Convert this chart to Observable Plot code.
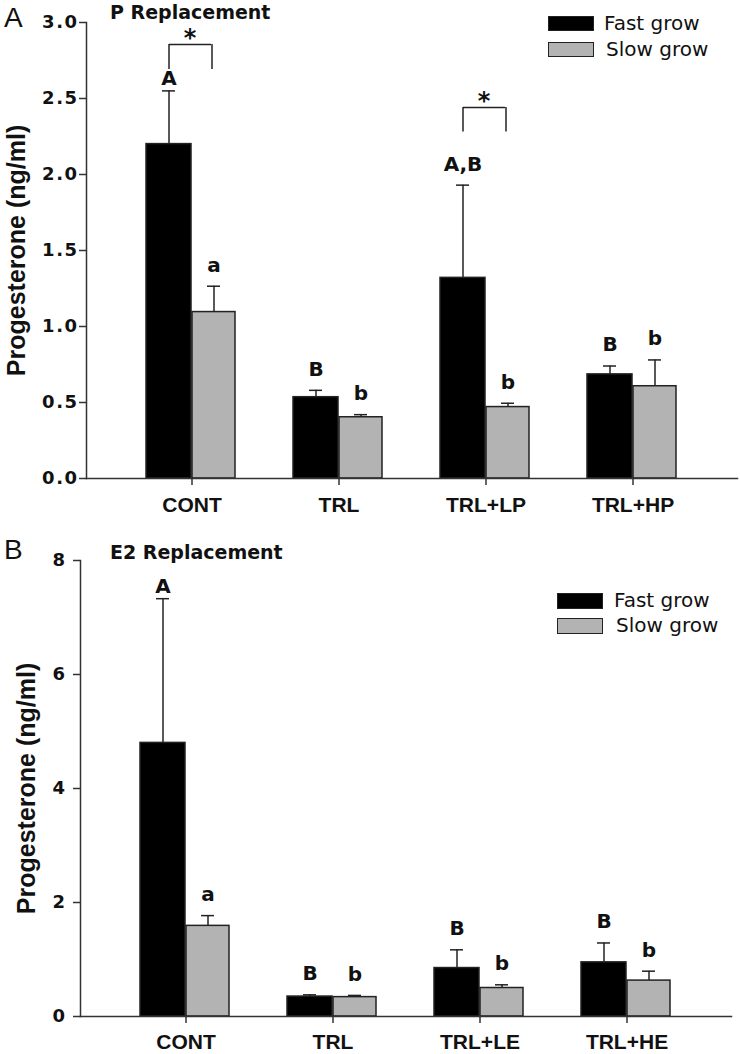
<!DOCTYPE html>
<html><head><meta charset="utf-8">
<script src="https://cdn.jsdelivr.net/npm/d3@7"></script>
<script src="https://cdn.jsdelivr.net/npm/@observablehq/plot@0.6"></script>
<style>
body{margin:0;background:#fff;}
#root{position:relative;width:740px;height:1054px;font-family:"Liberation Sans",Arial,sans-serif;color:#111;}
#root svg{display:block;}
.sw{position:absolute;box-sizing:border-box;border:1.5px solid #222;}
.lt{position:absolute;font-family:"DejaVu Sans",sans-serif;font-size:20px;line-height:24px;height:24px;white-space:nowrap;}
.ttl{position:absolute;font-family:"DejaVu Sans",sans-serif;font-weight:bold;font-size:19px;line-height:24px;height:24px;white-space:nowrap;}
.pl{position:absolute;font-family:"Liberation Sans",Arial,sans-serif;font-size:28px;line-height:30px;height:30px;}
</style></head><body><div id="root"></div>
<script>
// ---------- data ----------
const seriesNames = ["Fast grow", "Slow grow"];
const seriesColors = ["#000000", "#b3b3b3"];
const yLabel = "Progesterone (ng/ml)";

// Panel A: P Replacement
const catsA = ["CONT", "TRL", "TRL+LP", "TRL+HP"];
const fastA = [2.20, 0.535, 1.32, 0.685];
const fastErrA = [2.55, 0.58, 1.93, 0.74];
const slowA = [1.095, 0.403, 0.47, 0.607];
const slowErrA = [1.265, 0.42, 0.495, 0.78];
const fastLetterA = ["A", "B", "A,B", "B"];
const slowLetterA = ["a", "b", "b", "b"];
const yTicksA = [0, 0.5, 1.0, 1.5, 2.0, 2.5, 3.0];
const sigCatsA = ["CONT", "TRL+LP"];
const sigTopA = [2.855, 2.44];
const sigLegA = [2.69, 2.28];

// Panel B: E2 Replacement
const catsB = ["CONT", "TRL", "TRL+LE", "TRL+HE"];
const fastB = [4.80, 0.35, 0.85, 0.95];
const fastErrB = [7.33, 0.38, 1.17, 1.29];
const slowB = [1.59, 0.34, 0.50, 0.63];
const slowErrB = [1.77, 0.37, 0.556, 0.795];
const fastLetterB = ["A", "B", "B", "B"];
const slowLetterB = ["a", "b", "b", "b"];
const yTicksB = [0, 2, 4, 6, 8];
const sigCatsB = [];
const sigTopB = [];
const sigLegB = [];

// ---------- drawing ----------
const ink = "#222";
function panel(o) {
  const fastRows = o.cats.map((c, i) => ({cat: c, value: o.fast[i], err: o.fastErr[i], letter: o.fastLetter[i]}));
  const slowRows = o.cats.map((c, i) => ({cat: c, value: o.slow[i], err: o.slowErr[i], letter: o.slowLetter[i]}));
  const sigRows = o.sigCats.map((c, i) => ({cat: c, top: o.sigTop[i], leg: o.sigLeg[i]}));
  const letterStyle = {fontSize: 20, fontWeight: "bold", fontFamily: "DejaVu Sans", fill: "#111", text: "letter", x: "cat", y: "err"};
  const svg = Plot.plot({
    width: 740,
    height: o.height,
    marginTop: o.marginTop,
    marginBottom: o.marginBottom,
    marginLeft: o.marginLeft,
    marginRight: o.marginRight,
    style: {fontFamily: "Liberation Sans, Arial, sans-serif", background: "white", overflow: "visible", color: "#111"},
    x: {type: "band", domain: o.cats, paddingInner: 0, paddingOuter: 0.2},
    y: {domain: o.yDomain},
    marks: [
      Plot.barY(fastRows, {x: "cat", y: "value", fill: seriesColors[0], stroke: ink, strokeWidth: 1.5, insetLeft: 28, insetRight: 74}),
      Plot.barY(slowRows, {x: "cat", y: "value", fill: seriesColors[1], stroke: ink, strokeWidth: 1.5, insetLeft: 74, insetRight: 30}),
      Plot.ruleX(fastRows, {x: "cat", y1: "value", y2: "err", dx: -23, stroke: ink, strokeWidth: 1.5}),
      Plot.ruleX(slowRows, {x: "cat", y1: "value", y2: "err", dx: 22, stroke: ink, strokeWidth: 1.5}),
      Plot.ruleY(fastRows, {x1: "cat", x2: "cat", y: "err", insetLeft: 44, insetRight: 90, stroke: ink, strokeWidth: 1.5}),
      Plot.ruleY(slowRows, {x1: "cat", x2: "cat", y: "err", insetLeft: 89, insetRight: 45, stroke: ink, strokeWidth: 1.5}),
      Plot.text(fastRows, {...letterStyle, dx: -23, dy: -21, filter: d => d.letter !== "A"}),
      Plot.text(fastRows, {...letterStyle, dx: -23, dy: -12, filter: d => d.letter === "A"}),
      Plot.text(slowRows, {...letterStyle, dx: 22, dy: -21}),
      Plot.ruleY(sigRows, {x1: "cat", x2: "cat", y: "top", insetLeft: 51, insetRight: 54, stroke: ink, strokeWidth: 1.5}),
      Plot.ruleX(sigRows, {x: "cat", y1: "leg", y2: "top", dx: -23, stroke: ink, strokeWidth: 1.5}),
      Plot.ruleX(sigRows, {x: "cat", y1: "leg", y2: "top", dx: 20, stroke: ink, strokeWidth: 1.5}),
      Plot.text(sigRows, {x: "cat", y: "top", text: () => "*", dx: -2, dy: -6, fontSize: 24, fontWeight: "bold", fontFamily: "DejaVu Sans", fill: "#111"}),
      Plot.axisY({ticks: o.yTicks, tickFormat: o.tickFmt, tickSize: 7, tickPadding: o.tickPadding, fontSize: 18, fontWeight: "bold", fontFamily: "DejaVu Sans", color: "#111", stroke: "#333", strokeWidth: 1.5, label: null}),
      Plot.axisX({tickSize: 7, tickPadding: o.xPad, fontSize: 21, fontWeight: "bold", color: "#111", stroke: "#333", strokeWidth: 1.5, label: null}),
      Plot.frame({anchor: "left", stroke: "#333", strokeWidth: 1.5}),
      Plot.frame({anchor: "bottom", stroke: "#333", strokeWidth: 1.5}),
      Plot.text([yLabel], {frameAnchor: "left", textAnchor: "middle", lineAnchor: "middle", rotate: -90, dx: o.yLabelDx, text: d => d, fontSize: 25, fontWeight: "bold", fill: "#111"})
    ]
  });
  svg.querySelectorAll('g[aria-label="y-axis tick label"] text').forEach(t => t.setAttribute("letter-spacing", "1.5"));
  return svg;
}

const root = document.getElementById("root");
const wrapA = document.createElement("div");
wrapA.style.cssText = "position:absolute;left:0;top:0;";
wrapA.appendChild(panel({cats: catsA, fast: fastA, fastErr: fastErrA, slow: slowA, slowErr: slowErrA,
  fastLetter: fastLetterA, slowLetter: slowLetterA, yTicks: yTicksA, yDomain: [0, 3], tickFmt: d3.format(".1f"),
  sigCats: sigCatsA, sigTop: sigTopA, sigLeg: sigLegA,
  height: 525, marginTop: 22, marginBottom: 47, marginLeft: 86, marginRight: 3, tickPadding: 1, xPad: 12, yLabelDx: -70}));
root.appendChild(wrapA);
const wrapB = document.createElement("div");
wrapB.style.cssText = "position:absolute;left:0;top:525px;";
wrapB.appendChild(panel({cats: catsB, fast: fastB, fastErr: fastErrB, slow: slowB, slowErr: slowErrB,
  fastLetter: fastLetterB, slowLetter: slowLetterB, yTicks: yTicksB, yDomain: [0, 8], tickFmt: d3.format("d"),
  sigCats: sigCatsB, sigTop: sigTopB, sigLeg: sigLegB,
  height: 529, marginTop: 35, marginBottom: 38, marginLeft: 80, marginRight: 9, tickPadding: 7, xPad: 11, yLabelDx: -54}));
root.appendChild(wrapB);

function addDiv(cls, text, css) {
  const d = document.createElement("div");
  d.className = cls;
  if (text) d.textContent = text;
  d.style.cssText += css;
  root.appendChild(d);
}
// panel letters and titles
addDiv("pl", "A", "left:4px;top:3px;");
addDiv("ttl", "P Replacement", "left:110px;top:0px;");
addDiv("pl", "B", "left:4px;top:535px;");
addDiv("ttl", "E2 Replacement", "left:110px;top:540px;");
// legends
function legend(x, y1, y2, tx, c1, c2, h) {
  addDiv("sw", "", `left:${x}px;top:${y1}px;width:46px;height:${h}px;background:${seriesColors[0]};`);
  addDiv("sw", "", `left:${x}px;top:${y2}px;width:46px;height:${h}px;background:${seriesColors[1]};`);
  addDiv("lt", seriesNames[0], `left:${tx}px;top:${c1 - 12}px;`);
  addDiv("lt", seriesNames[1], `left:${tx + 2}px;top:${c2 - 12}px;`);
}
legend(548, 16, 42, 604, 23, 49, 15);
legend(557, 593, 618, 614, 600, 625, 16);
</script></body></html>
